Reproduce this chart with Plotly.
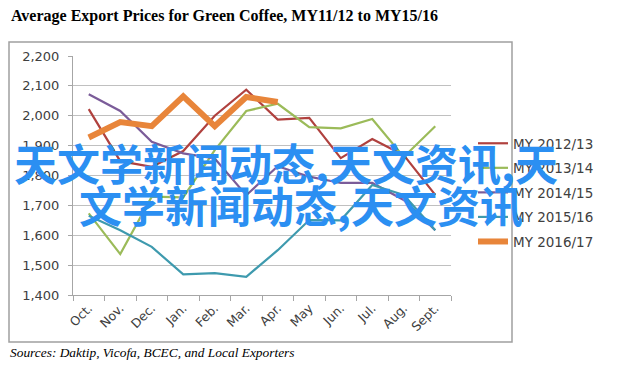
import plotly.graph_objects as go

months = ["Oct.", "Nov.", "Dec.", "Jan.", "Feb.", "Mar.", "Apr.", "May", "Jun.", "Jul.", "Aug.", "Sept."]
my_2012_13 = [2022, 1848, 1829, 1882, 2000, 2087, 1987, 1993, 1858, 1922, 1868, 1735]
my_2013_14 = [1673, 1537, 1729, 1727, 1885, 2016, 2040, 1962, 1958, 1989, 1862, 1965]
my_2014_15 = [2072, 2016, 1913, 1874, 1857, 1734, 1831, 1796, 1775, 1775, 1718, 1617]
my_2015_16 = [1665, 1617, 1561, 1469, 1473, 1461, 1550, 1651, 1650, 1768, 1735, 1617]
my_2016_17 = [1927, 1979, 1965, 2065, 1965, 2063, 2046]

series = [
    ("MY 2012/13", my_2012_13, "#b0413e", 2.2),
    ("MY 2013/14", my_2013_14, "#9bbb59", 2.2),
    ("MY 2014/15", my_2014_15, "#7b5c99", 2.2),
    ("MY 2015/16", my_2015_16, "#3e9aae", 2.2),
    ("MY 2016/17", my_2016_17, "#e8853a", 6),
]

fig = go.Figure()
for name, vals, color, w in series:
    fig.add_trace(go.Scatter(x=months[:len(vals)], y=vals, name=name, mode="lines",
                             legendgroup=name,
                             line=dict(color=color, width=w)))

OFF = 8  # page body margin
L, R, T, B = 73 - OFF, 451 - OFF, 56 - OFF, 295 - OFF
W, H = 628 - OFF, 372 - OFF

def px(x):
    return (x - OFF - L) / (R - L)

def py(y):
    return (B - (y - OFF)) / (B - T)

fig.update_layout(
    width=W, height=H,
    margin=dict(l=L, r=W - R, t=T, b=H - B),
    paper_bgcolor="white", plot_bgcolor="white",
    showlegend=True,
    legend=dict(x=px(473), y=py(128), xanchor="left", yanchor="top",
                font=dict(family="DejaVu Sans", size=13.5, color="#404040"),
                tracegroupgap=4, itemwidth=30, bgcolor="rgba(0,0,0,0)"),
    xaxis=dict(type="category", categoryorder="array", categoryarray=months,
               range=[-0.5, 11.5], showgrid=False, showline=True, linecolor="#a6a6a6",
               ticks="outside", tickson="boundaries", ticklen=5, tickcolor="#a6a6a6",
               tickangle=-45, tickfont=dict(family="DejaVu Sans", size=12.5, color="#404040")),
    yaxis=dict(range=[1400, 2200], dtick=100, tickformat=",", showgrid=True,
               gridcolor="#c0c0c0", gridwidth=1, showline=True, linecolor="#a6a6a6",
               ticks="outside", ticklen=4, tickcolor="#a6a6a6", zeroline=False,
               ticklabelstandoff=6,
               tickfont=dict(family="DejaVu Sans", size=13, color="#404040")),
    shapes=[dict(type="rect", xref="paper", yref="paper",
                 x0=px(9), x1=px(512), y0=py(342), y1=py(42),
                 line=dict(color="#a0a0a0", width=1.5), fillcolor="rgba(0,0,0,0)", layer="below")],
    annotations=[
        dict(text="<b>Average Export Prices for Green Coffee, MY11/12 to MY15/16</b>",
             xref="paper", yref="paper", x=px(9), y=py(16), xanchor="left", yanchor="middle",
             showarrow=False, font=dict(family="Liberation Serif", size=16, color="#000000")),
        dict(text="<i>Sources: Daktip, Vicofa, BCEC, and Local Exporters</i>",
             xref="paper", yref="paper", x=px(8), y=py(352), xanchor="left", yanchor="middle",
             showarrow=False, font=dict(family="Liberation Serif", size=13.4, color="#000000")),
        dict(text="<b>天文学新闻动态,天文资讯,天</b>",
             xref="paper", yref="paper", x=px(286), y=py(162), xanchor="center", yanchor="middle",
             showarrow=False, font=dict(family="Noto Sans CJK SC", size=43, color="#2b8ff2")),
        dict(text="<b>文学新闻动态,天文资讯</b>",
             xref="paper", yref="paper", x=px(301), y=py(204), xanchor="center", yanchor="middle",
             showarrow=False, font=dict(family="Noto Sans CJK SC", size=43, color="#2b8ff2")),
    ],
)

fig.write_html("out.html")
